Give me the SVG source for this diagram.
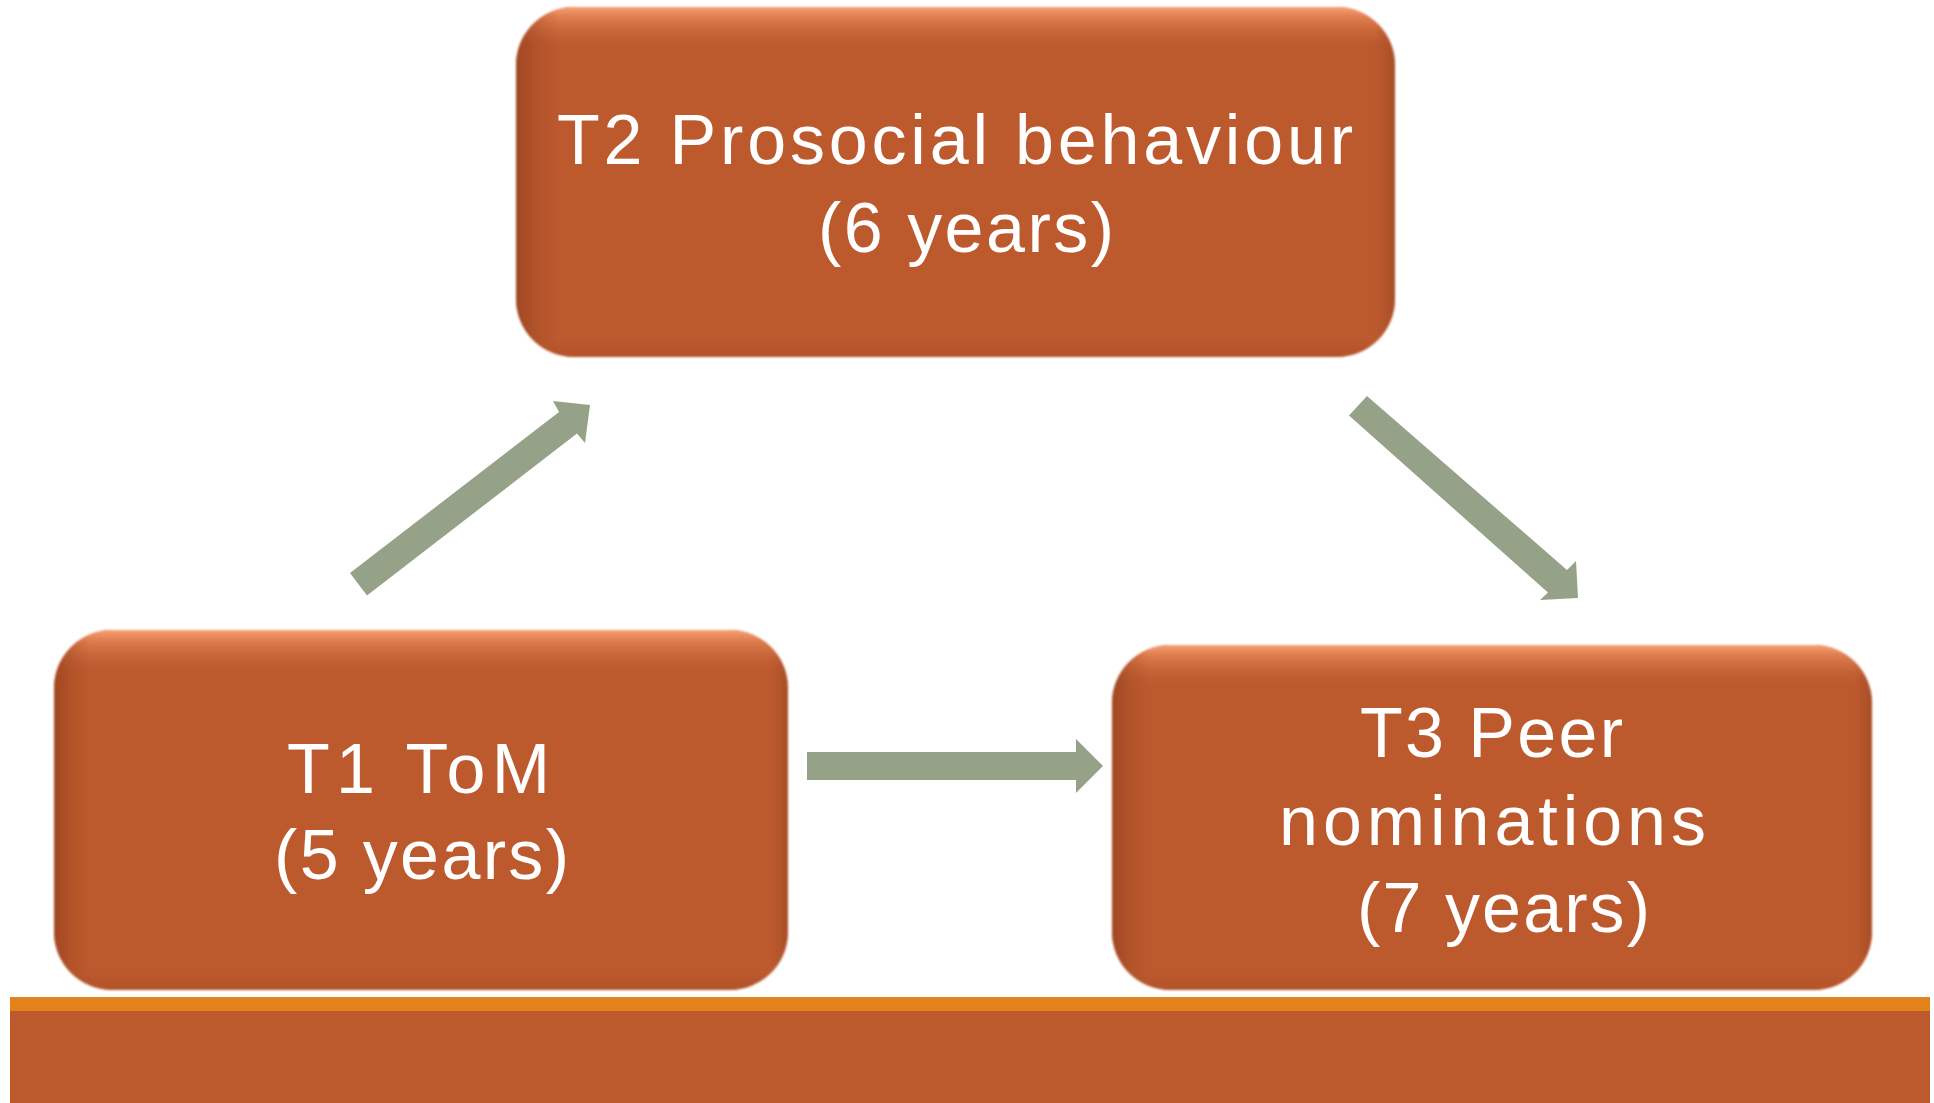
<svg xmlns="http://www.w3.org/2000/svg" width="1934" height="1103" viewBox="0 0 1934 1103">
  <style>
    .box { fill: #bc5a2f; }
    .shade-v { fill: url(#topLight); }
    .shade-h { fill: url(#sideDark); }
    .label { font-family: "Liberation Sans", Arial, sans-serif; font-size: 70px; fill: #ffffff; }
    .arrow { fill: #95a287; }
  </style>
  <defs>
    <!-- light rim along the top, slight darkening at the bottom -->
    <linearGradient id="topLight" x1="0" y1="0" x2="0" y2="1">
      <stop offset="0" stop-color="#f8a072" stop-opacity="1"/>
      <stop offset="0.03" stop-color="#ea8a5a" stop-opacity="0.75"/>
      <stop offset="0.11" stop-color="#d06c40" stop-opacity="0"/>
      <stop offset="0.95" stop-color="#a84a22" stop-opacity="0"/>
      <stop offset="1" stop-color="#a84a22" stop-opacity="0.5"/>
    </linearGradient>
    <!-- darker bevel on the left and right sides -->
    <linearGradient id="sideDark" x1="0" y1="0" x2="1" y2="0">
      <stop offset="0" stop-color="#8e3c1a" stop-opacity="0.6"/>
      <stop offset="0.05" stop-color="#a84a22" stop-opacity="0"/>
      <stop offset="0.975" stop-color="#a84a22" stop-opacity="0"/>
      <stop offset="1" stop-color="#8e3c1a" stop-opacity="0.45"/>
    </linearGradient>
    <filter id="soft" x="-2%" y="-2%" width="104%" height="104%">
      <feGaussianBlur stdDeviation="1.2"/>
    </filter>
  </defs>

  <!-- base band -->
  <g id="base">
    <rect x="10" y="997" width="1920" height="14" fill="#e3821a"/>
    <rect x="10" y="1011" width="1920" height="92" fill="#bd5a2d"/>
  </g>

  <!-- connectors -->
  <g id="connectors">
    <polygon class="arrow" points="350,573 559,412 553,401 590,405 585,443 577,433.5 367,595.5"/>
    <polygon class="arrow" points="1367,396 1567,570 1576,561 1578,598 1540,600 1548,592.5 1349,415.6"/>
    <polygon class="arrow" points="807,752 1076,752 1076,739 1103,766 1076,793 1076,780 807,780"/>
  </g>

  <!-- T2 node -->
  <g id="node-t2">
    <g filter="url(#soft)">
      <rect class="box" x="516" y="7" width="879" height="350" rx="58"/>
      <rect class="shade-v" x="516" y="7" width="879" height="350" rx="58"/>
      <rect class="shade-h" x="516" y="7" width="879" height="350" rx="58"/>
    </g>
    <text class="label" x="557" y="164" textLength="796" lengthAdjust="spacing">T2 Prosocial behaviour</text>
    <text class="label" x="818" y="252" textLength="296" lengthAdjust="spacing">(6 years)</text>
  </g>

  <!-- T1 node -->
  <g id="node-t1">
    <g filter="url(#soft)">
      <rect class="box" x="54" y="630" width="734" height="360" rx="58"/>
      <rect class="shade-v" x="54" y="630" width="734" height="360" rx="58"/>
      <rect class="shade-h" x="54" y="630" width="734" height="360" rx="58"/>
    </g>
    <text class="label" x="287" y="793" textLength="263" lengthAdjust="spacing">T1 ToM</text>
    <text class="label" x="274" y="879" textLength="295" lengthAdjust="spacing">(5 years)</text>
  </g>

  <!-- T3 node -->
  <g id="node-t3">
    <g filter="url(#soft)">
      <rect class="box" x="1112" y="645" width="760" height="345" rx="58"/>
      <rect class="shade-v" x="1112" y="645" width="760" height="345" rx="58"/>
      <rect class="shade-h" x="1112" y="645" width="760" height="345" rx="58"/>
    </g>
    <text class="label" x="1360" y="757" textLength="263" lengthAdjust="spacing">T3 Peer</text>
    <text class="label" x="1279" y="845" textLength="427" lengthAdjust="spacing">nominations</text>
    <text class="label" x="1357" y="932" textLength="293" lengthAdjust="spacing">(7 years)</text>
  </g>
</svg>
